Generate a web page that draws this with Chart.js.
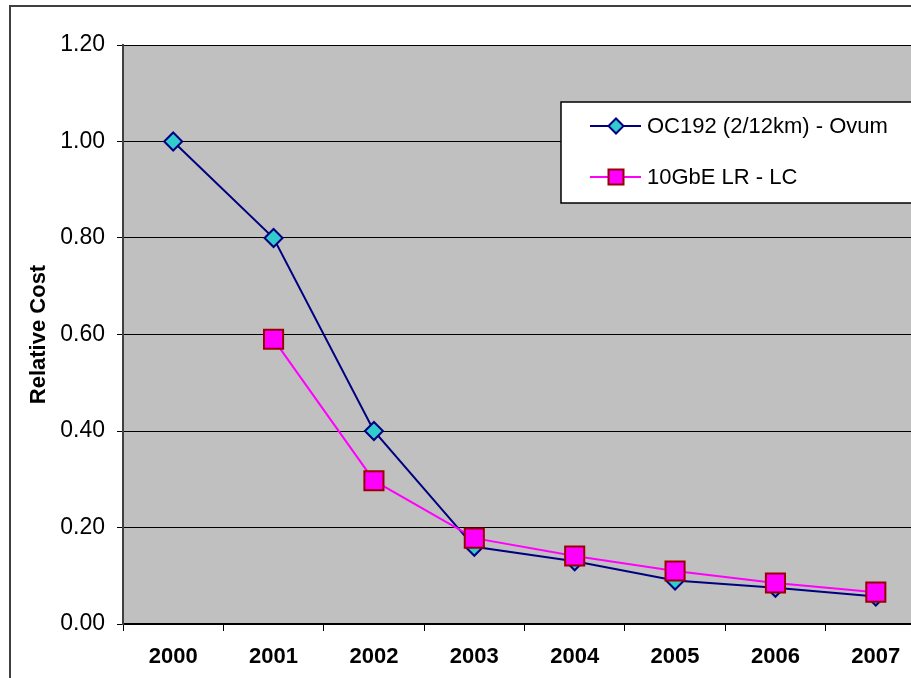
<!DOCTYPE html>
<html>
<head>
<meta charset="utf-8">
<script src="https://cdn.jsdelivr.net/npm/chart.js@4/dist/chart.umd.min.js"></script>
<style>
  html, body { margin: 0; padding: 0; background: #ffffff; overflow: hidden; }
  #wrap { width: 911px; height: 678px; overflow: hidden; position: relative; }
  #wrap canvas { position: absolute; left: 0; top: 0; }
</style>
</head>
<body>
<div id="wrap"><canvas id="c" width="960" height="678"></canvas></div>
<script>
const categories = ["2000", "2001", "2002", "2003", "2004", "2005", "2006", "2007"];
const oc192Values = [1.00, 0.80, 0.40, 0.16, 0.13, 0.09, 0.075, 0.057];
const gbeValues = [null, 0.59, 0.297, 0.178, 0.141, 0.11, 0.085, 0.066];
const seriesNames = ["OC192 (2/12km) - Ovum", "10GbE LR - LC"];
const yTicks = [0, 0.2, 0.4, 0.6, 0.8, 1.0, 1.2];

const FONT = "'Liberation Sans', Arial, sans-serif";

const bgPlugin = {
  id: 'bgPlugin',
  beforeDraw(chart) {
    const { ctx, chartArea: a } = chart;
    ctx.save();
    ctx.fillStyle = '#ffffff';
    ctx.fillRect(0, 0, chart.width, chart.height);
    ctx.fillStyle = '#C0C0C0';
    ctx.fillRect(a.left, a.top, a.right - a.left, a.bottom - a.top);
    ctx.strokeStyle = '#404040';
    ctx.lineWidth = 2;
    ctx.strokeRect(10, 6, chart.width + 50, chart.height + 50);
    ctx.restore();
  }
};

const legendPlugin = {
  id: 'boxLegend',
  afterDraw(chart) {
    const { ctx } = chart;
    const x0 = 561, y0 = 102, y1 = 203;
    ctx.save();
    ctx.fillStyle = '#ffffff';
    ctx.fillRect(x0, y0, chart.width, y1 - y0);
    ctx.strokeStyle = '#000000';
    ctx.lineWidth = 1.5;
    ctx.strokeRect(x0, y0, chart.width, y1 - y0);
    const rows = [
      { y: 126, ds: chart.data.datasets[1] },
      { y: 177, ds: chart.data.datasets[0] }
    ];
    rows.forEach(r => {
      ctx.strokeStyle = r.ds.borderColor;
      ctx.lineWidth = 2;
      ctx.beginPath();
      ctx.moveTo(590, r.y);
      ctx.lineTo(641, r.y);
      ctx.stroke();
      ctx.fillStyle = r.ds.pointBackgroundColor;
      ctx.strokeStyle = r.ds.pointBorderColor;
      ctx.lineWidth = 2;
      ctx.beginPath();
      if (r.ds.pointStyle === 'rect') {
        ctx.rect(616 - 7.5, r.y - 7.5, 15, 15);
      } else {
        ctx.moveTo(616 - 7.5, r.y); ctx.lineTo(616, r.y - 7.5);
        ctx.lineTo(616 + 7.5, r.y); ctx.lineTo(616, r.y + 7.5); ctx.closePath();
      }
      ctx.fill();
      ctx.stroke();
      ctx.fillStyle = '#000000';
      ctx.font = '22px ' + FONT;
      ctx.textBaseline = 'middle';
      ctx.textAlign = 'left';
      ctx.fillText(r.ds.label, 647, r.y + 1);
    });
    ctx.restore();
  }
};

new Chart(document.getElementById('c'), {
  type: 'line',
  data: {
    labels: categories,
    datasets: [
      {
        label: seriesNames[1],
        data: gbeValues,
        order: 0,
        borderColor: '#FF00FF',
        borderWidth: 2,
        pointStyle: 'rect',
        pointRadius: 13.5,
        pointBackgroundColor: '#FF00FF',
        pointBorderColor: '#990000',
        pointBorderWidth: 2,
        tension: 0,
        spanGaps: false
      },
      {
        label: seriesNames[0],
        data: oc192Values,
        order: 1,
        borderColor: '#000080',
        borderWidth: 2,
        pointStyle: 'rectRot',
        pointRadius: 9,
        pointBackgroundColor: '#33CCCC',
        pointBorderColor: '#000080',
        pointBorderWidth: 2,
        tension: 0
      }
    ]
  },
  options: {
    responsive: false,
    animation: false,
    devicePixelRatio: 1,
    layout: { padding: { left: 22, top: 45, right: 34, bottom: 0 } },
    plugins: {
      legend: { display: false },
      tooltip: { enabled: false },
      title: { display: false }
    },
    scales: {
      x: {
        type: 'category',
        offset: true,
        grid: {
          display: true,
          offset: true,
          drawOnChartArea: false,
          drawTicks: true,
          tickLength: 7,
          color: '#000000'
        },
        border: { display: true, color: '#000000', width: 2 },
        ticks: {
          color: '#000000',
          font: { family: FONT, size: 22, weight: 'bold' },
          padding: 13,
          maxRotation: 0,
          autoSkip: false
        },
        afterFit(scale) { scale.height = 54; }
      },
      y: {
        min: 0,
        max: 1.2,
        afterBuildTicks(scale) { scale.ticks = yTicks.map(v => ({ value: v })); },
        grid: {
          color: '#000000',
          lineWidth: 1,
          drawTicks: true,
          tickLength: 6
        },
        border: { display: true, color: '#404040', width: 2 },
        ticks: {
          color: '#000000',
          font: { family: FONT, size: 23 },
          padding: 12,
          callback: v => Number(v).toFixed(2)
        },
        title: {
          display: true,
          text: 'Relative Cost',
          color: '#000000',
          font: { family: FONT, size: 22, weight: 'bold' },
          padding: 4
        },
        afterFit(scale) { scale.width = 101; }
      }
    }
  },
  plugins: [bgPlugin, legendPlugin]
});
</script>
</body>
</html>
